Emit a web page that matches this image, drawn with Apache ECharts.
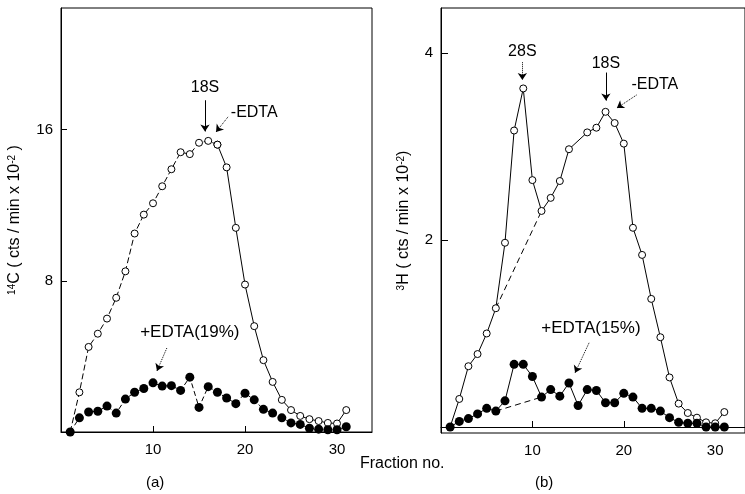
<!DOCTYPE html>
<html>
<head>
<meta charset="utf-8">
<script src="https://cdn.jsdelivr.net/npm/echarts@6/dist/echarts.min.js"></script>
<style>
  html, body { margin: 0; padding: 0; background: #fff; }
  #chart { width: 745px; height: 494px; }
</style>
</head>
<body>
<div id="chart"></div>
<script>
  // fraction numbers 1..31
  const fractions = []
  for (let i = 1; i <= 31; i++) fractions.push(i)

  // (a) 14C, cts/min x 10^-2
  const leftMinusEdta = [0, 2.1, 4.5, 5.2, 6.0, 7.1, 8.5, 10.5, 11.5, 12.1, 13.0, 13.9, 14.8, 14.7, 15.3, 15.4,
    15.2, 14.0, 10.8, 7.8, 5.6, 3.8, 2.65, 1.7, 1.16, 0.85, 0.68, 0.58, 0.48, 0.45, 1.16]
  const leftPlusEdta = [0, 0.75, 1.06, 1.1, 1.37, 1.0, 1.74, 2.1, 2.3, 2.6, 2.43, 2.45, 2.2, 2.9, 1.3, 2.4,
    2.1, 1.8, 1.5, 2.05, 1.7, 1.2, 1.0, 0.75, 0.48, 0.4, 0.2, 0.15, 0.12, 0.12, 0.28]

  // (b) 3H, cts/min x 10^-2
  const rightMinusEdta = [0, 0.3, 0.65, 0.78, 1.0, 1.27, 1.97, 3.17, 3.62, 2.64, 2.31, 2.45, 2.63, 2.97, null, 3.15,
    3.2, 3.37, 3.25, 3.03, 2.13, 1.84, 1.37, 0.96, 0.53, 0.25, 0.15, 0.1, 0.05, 0.04, 0.16]
  const rightPlusEdta = [0, 0.06, 0.09, 0.14, 0.2, 0.17, 0.28, 0.67, 0.67, 0.54, 0.32, 0.4, 0.33, 0.47, 0.23, 0.4,
    0.39, 0.26, 0.26, 0.36, 0.32, 0.2, 0.2, 0.17, 0.1, 0.05, 0.04, 0.04, 0, 0, 0]

  // tick labels
  const xTicks = [10, 20, 30]
  const leftYTicks = [8, 16]
  const rightYTicks = [2, 4]

  // dashed baseline drawn under the 28S peak in (b)
  const bypassFrom = 6
  const bypassTo = 11
  // in (a) the rising side is dashed, the falling side solid
  const leftBreak = 17

  const FONT = 'Liberation Sans'

  function pairs(vals, keep) {
    return vals.map((v, i) => {
      const n = fractions[i]
      return (keep && !keep(n)) ? [n, null] : [n, v]
    })
  }

  const openCircle = {
    symbol: 'circle', symbolSize: 7,
    itemStyle: { color: '#fff', borderColor: '#000', borderWidth: 1 }
  }
  const dot = {
    symbol: 'circle', symbolSize: 9,
    itemStyle: { color: '#000', borderColor: '#000', borderWidth: 0 }
  }

  function textMarks(list) {
    return {
      symbol: 'rect', symbolSize: 1, silent: true,
      itemStyle: { color: 'rgba(0,0,0,0)' },
      label: { show: true, position: 'inside', color: '#000', fontFamily: FONT },
      data: list.map(t => ({
        coord: t.at,
        label: { formatter: t.text, fontSize: t.size }
      }))
    }
  }

  function arrowMarks(list) {
    return {
      silent: true,
      symbol: ['none', 'arrow'],
      symbolSize: 7,
      label: { show: false },
      data: list.map(a => [
        { coord: a.from, lineStyle: { color: '#000', width: 1, type: a.type } },
        { coord: a.to }
      ])
    }
  }

  const nameStyle = {
    color: '#000', fontFamily: FONT, fontSize: 16,
    rich: {
      sup: { fontSize: 10, fontFamily: FONT, color: '#000', verticalAlign: 'top', padding: [0, 0, 6, 0] },
      t: { fontSize: 16, fontFamily: FONT, color: '#000' }
    }
  }

  const chart = echarts.init(document.getElementById('chart'), null, { renderer: 'canvas' })

  const axisText = { color: '#000', fontFamily: FONT, fontSize: 15 }

  chart.setOption({
    animation: false,
    backgroundColor: '#fff',
    grid: [
      { left: 61, top: 8, width: 311, height: 424, show: true, borderColor: '#000', borderWidth: 1 },
      { left: 441, top: 8, width: 306, height: 425, show: true, borderColor: '#000', borderWidth: 1 }
    ],
    xAxis: [
      {
        gridIndex: 0, type: 'value', min: 0, max: 33.8,
        splitLine: { show: false },
        axisLine: { lineStyle: { color: '#000' } },
        axisTick: { inside: true, length: 6, customValues: xTicks, lineStyle: { color: '#000' } },
        axisLabel: Object.assign({ customValues: xTicks, margin: 10 }, axisText)
      },
      {
        gridIndex: 1, type: 'value', min: 0, max: 33.26,
        splitLine: { show: false },
        axisLine: { lineStyle: { color: '#000' } },
        axisTick: { inside: true, length: 6, customValues: xTicks, lineStyle: { color: '#000' } },
        axisLabel: Object.assign({ customValues: xTicks, margin: 10 }, axisText)
      }
    ],
    yAxis: [
      {
        gridIndex: 0, type: 'value', min: 0, max: 22.43,
        name: '{sup|14}{t|C ( cts / min x 10}{sup|-2}{t| )}',
        nameLocation: 'middle', nameGap: 38, nameRotate: 90,
        nameTextStyle: nameStyle,
        splitLine: { show: false },
        axisLine: { show: true, lineStyle: { color: '#000' } },
        axisTick: { show: true, inside: true, length: 6, customValues: leftYTicks, lineStyle: { color: '#000' } },
        axisLabel: Object.assign({ customValues: leftYTicks, margin: 8 }, axisText)
      },
      {
        gridIndex: 1, type: 'value', min: -0.064, max: 4.48,
        name: '{sup|3}{t|H ( cts / min x 10}{sup|-2}{t|)}',
        nameLocation: 'middle', nameGap: 29, nameRotate: 90,
        nameTextStyle: nameStyle,
        splitLine: { show: false },
        axisLine: { show: true, lineStyle: { color: '#000' } },
        axisTick: { show: true, inside: true, length: 7, customValues: rightYTicks, lineStyle: { color: '#000' } },
        axisLabel: Object.assign({ customValues: rightYTicks, margin: 8 }, axisText)
      }
    ],
    graphic: [
      { type: 'text', left: 360, top: 456, style: { text: 'Fraction no.', fill: '#000', font: '16px "' + FONT + '"' } },
      { type: 'text', left: 146, top: 475, style: { text: '(a)', fill: '#000', font: '15px "' + FONT + '"' } },
      { type: 'text', left: 535, top: 475, style: { text: '(b)', fill: '#000', font: '15px "' + FONT + '"' } }
    ],
    series: [
      // ---- (a)
      Object.assign({
        name: '-EDTA a rising', type: 'line', xAxisIndex: 0, yAxisIndex: 0,
        data: pairs(leftMinusEdta, n => n <= leftBreak),
        lineStyle: { color: '#000', width: 1, type: [6, 3] }, z: 3,
        markPoint: textMarks([
          { text: '18S', at: [15.65, 18.2], size: 16 },
          { text: '-EDTA', at: [21.0, 16.9], size: 16 },
          { text: '+EDTA(19%)', at: [14.0, 5.3], size: 17 }
        ]),
        markLine: arrowMarks([
          { from: [15.65, 17.55], to: [15.65, 15.9], type: 'solid' },
          { from: [18.15, 16.67], to: [16.85, 15.87], type: 'dotted' },
          { from: [11.5, 4.44], to: [10.43, 3.23], type: 'dotted' }
        ])
      }, openCircle),
      Object.assign({
        name: '-EDTA a falling', type: 'line', xAxisIndex: 0, yAxisIndex: 0,
        data: pairs(leftMinusEdta, n => n >= leftBreak),
        lineStyle: { color: '#000', width: 1 }, z: 3
      }, openCircle),
      Object.assign({
        name: '+EDTA a', type: 'line', xAxisIndex: 0, yAxisIndex: 0,
        data: pairs(leftPlusEdta),
        lineStyle: { color: '#000', width: 1, type: [5, 3] }, z: 4
      }, dot),

      // ---- (b)
      Object.assign({
        name: '-EDTA b', type: 'line', xAxisIndex: 1, yAxisIndex: 1,
        data: pairs(rightMinusEdta), connectNulls: true,
        lineStyle: { color: '#000', width: 1 }, z: 3,
        markPoint: textMarks([
          { text: '28S', at: [8.9, 4.01], size: 16 },
          { text: '18S', at: [18.04, 3.89], size: 16 },
          { text: '-EDTA', at: [23.4, 3.66], size: 16 },
          { text: '+EDTA(15%)', at: [16.4, 1.06], size: 17 }
        ]),
        markLine: arrowMarks([
          { from: [8.9, 3.9], to: [8.9, 3.71], type: 'dotted' },
          { from: [18.04, 3.79], to: [18.04, 3.49], type: 'solid' },
          { from: [21.4, 3.55], to: [19.24, 3.41], type: 'dotted' },
          { from: [16.2, 0.9], to: [14.67, 0.58], type: 'dotted' }
        ])
      }, openCircle),
      {
        name: '-EDTA b baseline', type: 'line', xAxisIndex: 1, yAxisIndex: 1,
        data: pairs(rightMinusEdta, n => n === bypassFrom || n === bypassTo), connectNulls: true,
        showSymbol: false, lineStyle: { color: '#000', width: 1, type: [6, 4] }, z: 2
      },
      Object.assign({
        name: '+EDTA b', type: 'line', xAxisIndex: 1, yAxisIndex: 1,
        data: pairs(rightPlusEdta),
        lineStyle: { color: '#000', width: 1 }, z: 4
      }, dot),
      {
        name: '+EDTA b baseline', type: 'line', xAxisIndex: 1, yAxisIndex: 1,
        data: pairs(rightPlusEdta, n => n === bypassFrom || n === bypassTo), connectNulls: true,
        showSymbol: false, lineStyle: { color: '#000', width: 1, type: [6, 4] }, z: 2
      }
    ]
  })
</script>
</body>
</html>
